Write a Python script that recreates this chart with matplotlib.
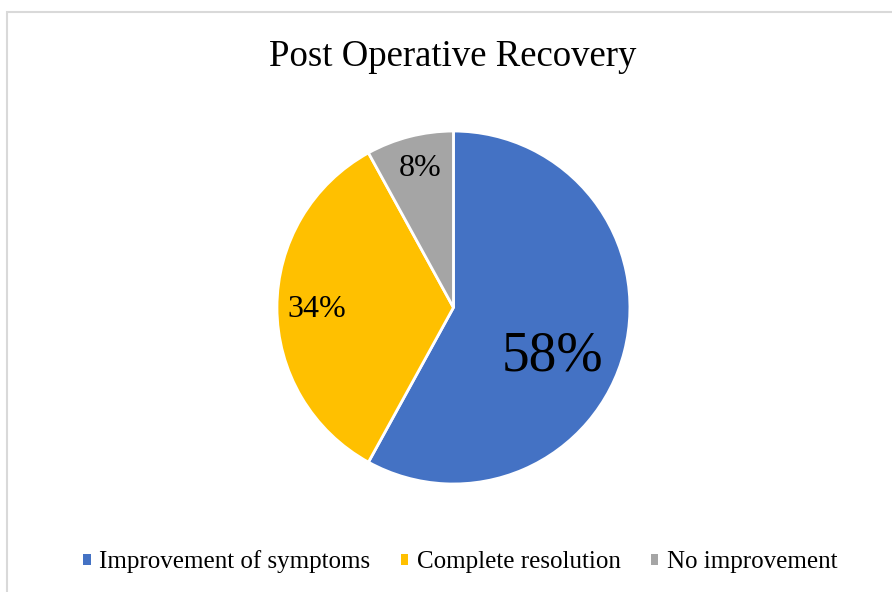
import matplotlib
matplotlib.use("Agg")
import matplotlib.pyplot as plt
from matplotlib.patches import Patch, Rectangle

plt.rcParams['font.family'] = ['Liberation Serif', 'DejaVu Serif']

# data
labels = ['Improvement of symptoms', 'Complete resolution', 'No improvement']
values = [58, 34, 8]
colors = ['#4472C4', '#FFC000', '#A5A5A5']
pct_sizes = [40, 23, 23]
# label centre in units of pie radius
pct_pos = [(0.56, -0.275), (-0.775, -0.01), (-0.19, 0.785)]

fig = plt.figure(figsize=(8.92, 5.92), dpi=100)
fig.patch.set_facecolor('white')

# light frame round the chart area
fig.add_artist(Rectangle((7 / 892, -0.1), 1.2, 1 - 12 / 592 + 0.1,
                         transform=fig.transFigure, fill=False,
                         edgecolor='#d9d9d9', linewidth=1.5))

ax = fig.add_axes([0.3105, 0.1824, 0.3957, 0.5963])
wedges, texts, autotexts = ax.pie(values, colors=colors, startangle=90,
                                  counterclock=False, autopct='%d%%',
                                  wedgeprops=dict(edgecolor='white', linewidth=2))
ax.set_xlim(-1, 1)
ax.set_ylim(-1, 1)
ax.set_aspect('equal')

for t, s, p in zip(autotexts, pct_sizes, pct_pos):
    t.set_fontsize(s)
    t.set_position(p)
    t.set_color('black')

fig.text(0.508, 1 - 57 / 592, 'Post Operative Recovery', ha='center', va='center',
         fontsize=26.5)

handles = [Patch(facecolor=c, edgecolor='none') for c in colors]
fig.legend(handles, labels, loc='center', bbox_to_anchor=(0.516, 1 - 562 / 592),
           ncol=3, frameon=False, fontsize=18, handlelength=0.3, handleheight=0.3,
           handletextpad=0.35, columnspacing=1.2)

fig.savefig('out.png', dpi=100)
